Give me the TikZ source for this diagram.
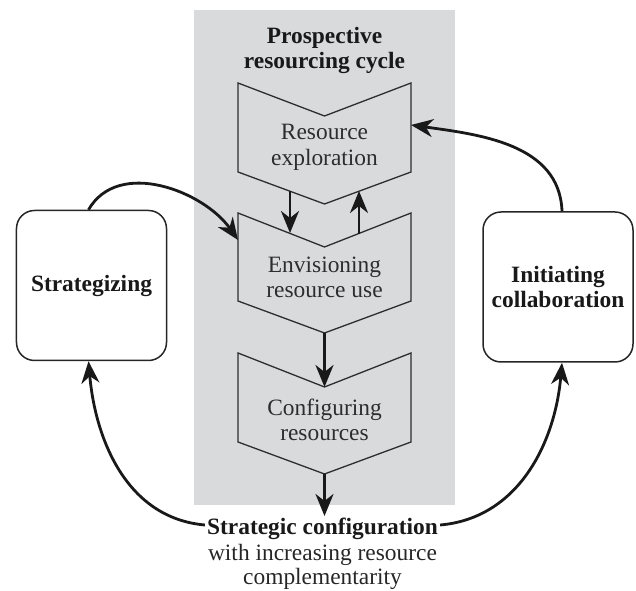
\documentclass[tikz,border=0pt]{standalone}
\usepackage{fontspec}
\setmainfont{Liberation Serif}
\usepackage{tikz}
\usetikzlibrary{arrows.meta}
\definecolor{panelgray}{RGB}{217,218,220}
\definecolor{inkgray}{RGB}{45,45,45}
\begin{document}
\begin{tikzpicture}[x=1bp,y=1bp,
  chev/.style={draw=inkgray,line width=1.3bp,line join=miter},
  lab/.style={text=inkgray,align=center,inner sep=0pt,font=\fontsize{23.5}{25.5}\selectfont},
  head/.style={text=black!90,align=center,font=\fontsize{23.5}{25}\selectfont\bfseries},
  box/.style={draw=black!85,line width=1.5bp,rounded corners=18bp,fill=white,minimum width=150bp,minimum height=150bp},
  arr/.style={line width=2.8bp,draw=black!90,-{Stealth[length=22bp,width=18bp,inset=7bp]}}]
\useasboundingbox (0,0) rectangle (636,591);
\fill[panelgray](194,86) rectangle (455,581);
%
\draw[chev](238,508)--(324.5,475)--(411,508)--(411,419)--(324.5,387)coordinate(tip1)--(238,419)--cycle;
\draw[chev](238,378)--(324.5,344)coordinate(notch2)--(411,378)--(411,290)--(324.5,258)coordinate(tip2)--(238,290)--cycle;
\draw[chev](238,238)--(324.5,204)coordinate(notch3)--(411,238)--(411,149)--(324.5,117)coordinate(tip3)--(238,149)--cycle;
%
\node[head] (title) at (324.5,540.5) {Prospective\\resourcing cycle};
\node[lab] (explore) at (324.5,443.5) {Resource\\exploration};
\node[lab] (envision) at (324.5,313.5) {Envisioning\\resource use};
\node[lab] (config) at (324.5,171) {Configuring\\resources};
%
\node[box,head] (strat) at (91.5,305.5) {Strategizing};
\node[box,head] (collab) at (558,304) {Initiating\\collaboration};
%
\node[head,inner sep=2bp] (sc) at (322.5,62) {Strategic configuration};
\node[lab,text=black!85,font=\fontsize{23.5}{24.5}\selectfont] (scsub) at (322.5,24) {with increasing resource\\complementarity};
%
\coordinate (dn1) at (290,400);
\coordinate (dn2) at (290,358);
\coordinate (up1) at (359,357);
\coordinate (up2) at (359,400);
\coordinate (envleft) at (238,351);
\coordinate (expright) at (411,466);
\draw[arr](dn1)--(dn2);
\draw[arr](up1)--(up2);
\draw[arr](tip2)--(notch3);
\draw[arr](tip3)--([yshift=-42bp]tip3);
%
\draw[arr]([xshift=-3bp]strat.north) to[out=60,in=125] (envleft);
\draw[arr]([xshift=4bp]collab.north) to[out=92,in=-8] (expright);
\draw[arr]([yshift=4bp]sc.west) to[out=175,in=-85] ([xshift=-3bp]strat.south);
\draw[arr]([yshift=4bp]sc.east) to[out=5,in=-95] ([xshift=4bp]collab.south);
\end{tikzpicture}
\end{document}
